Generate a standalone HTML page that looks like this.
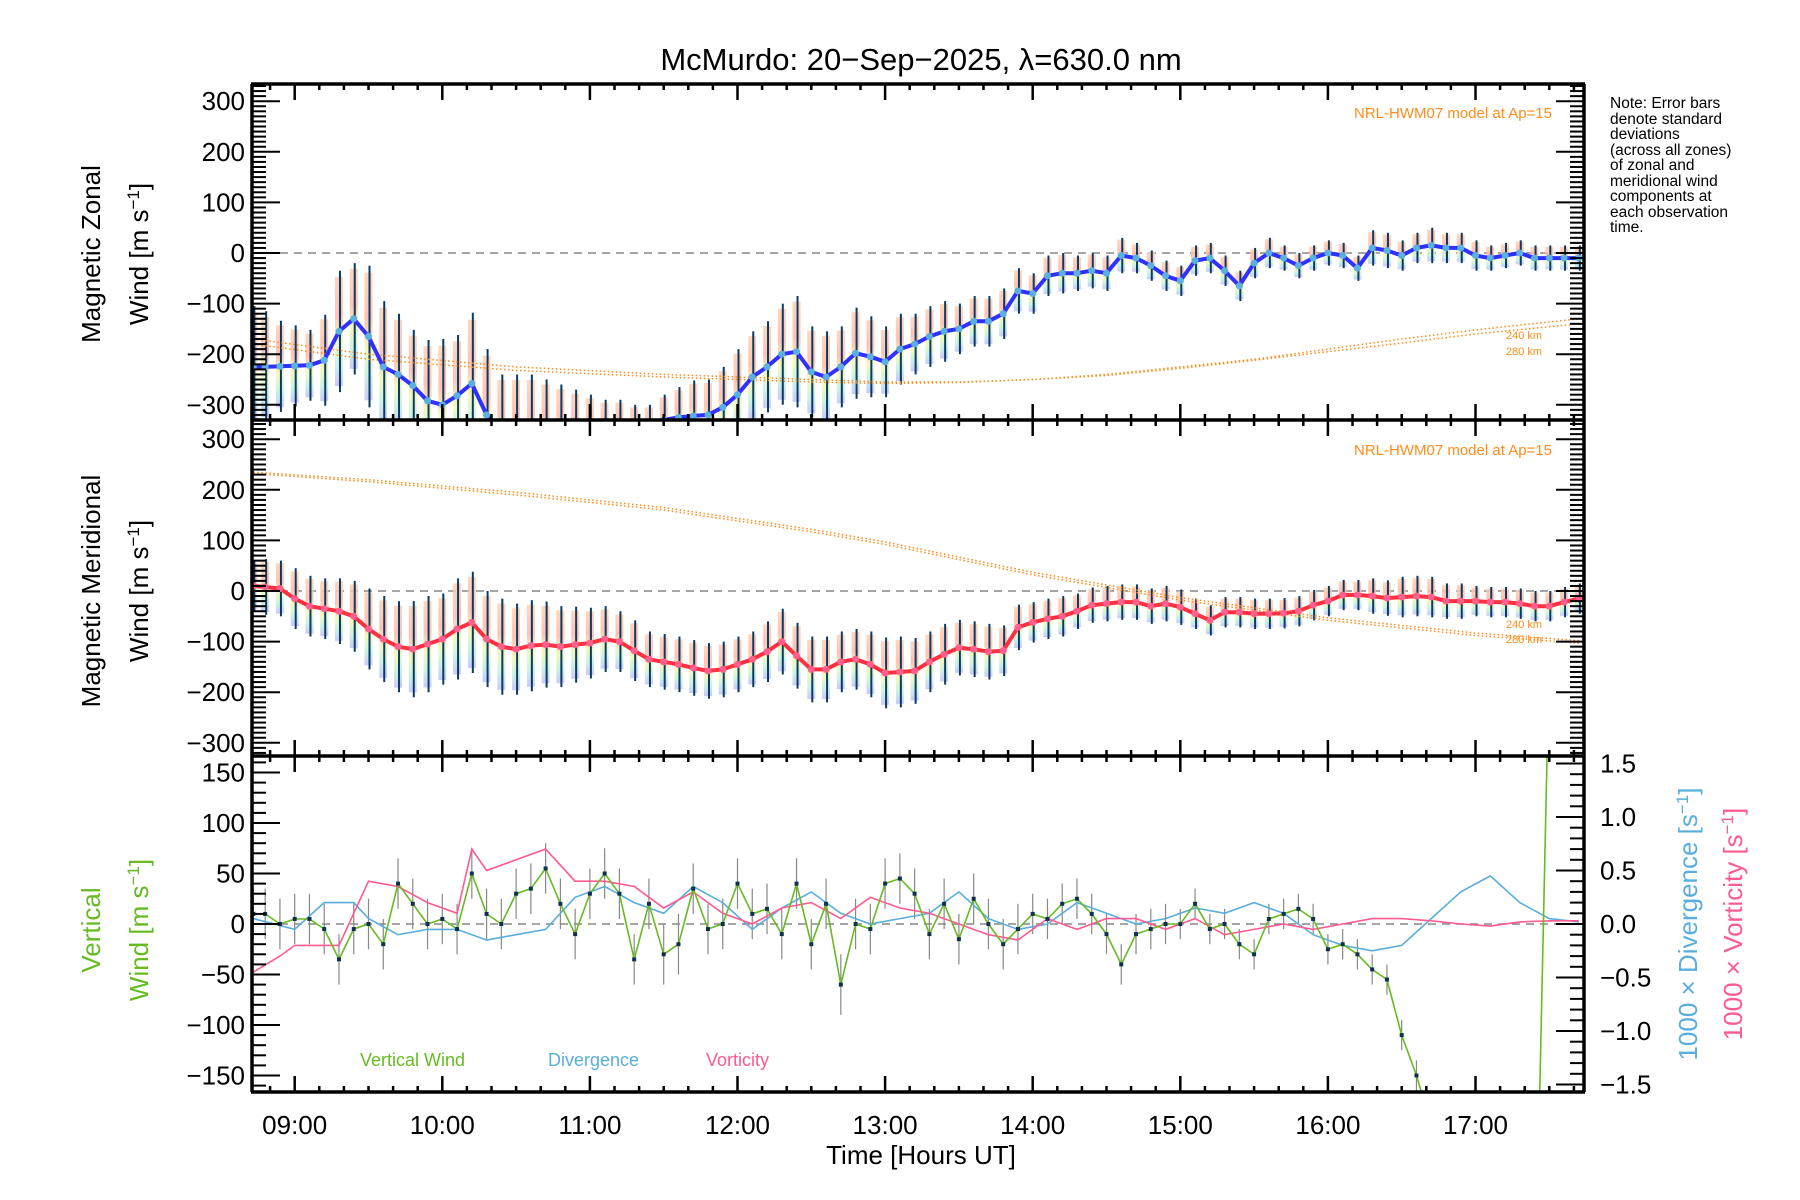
<!DOCTYPE html>
<html><head><meta charset="utf-8"><style>
html,body{margin:0;padding:0;background:#fff;}
svg{display:block;font-family:"Liberation Sans",sans-serif;}
</style></head><body>
<svg id="chart" width="1800" height="1200" viewBox="0 0 1800 1200" xmlns="http://www.w3.org/2000/svg">
<defs>
<linearGradient id="zg" x1="0" y1="0" x2="0" y2="1"><stop offset="0" stop-color="#ffd0b0"/><stop offset="0.35" stop-color="#ffb8a8"/><stop offset="0.6" stop-color="#f0f8b0"/><stop offset="0.8" stop-color="#c0f0e0"/><stop offset="1" stop-color="#c0c0f8"/></linearGradient>
<clipPath id="c1"><rect x="252" y="84" width="1332" height="336"/></clipPath>
<clipPath id="c2"><rect x="252" y="420" width="1332" height="336"/></clipPath>
<clipPath id="c3"><rect x="252" y="756" width="1332" height="336"/></clipPath>
</defs>
<text x="921" y="70" font-size="31" text-anchor="middle">McMurdo: 20−Sep−2025, λ=630.0 nm</text>
<g id="p1" clip-path="url(#c1)"></g>
<g id="p2" clip-path="url(#c2)"></g>
<g id="p3" clip-path="url(#c3)"></g>
<g id="axes"></g>
<text x="1552" y="118" font-size="15" fill="#ff8c1a" text-anchor="end">NRL-HWM07 model at Ap=15</text>
<text x="1552" y="455" font-size="15" fill="#ff8c1a" text-anchor="end">NRL-HWM07 model at Ap=15</text>
<text x="1506" y="339" font-size="11" fill="#ff8c1a">240 km</text>
<text x="1506" y="355" font-size="11" fill="#ff8c1a">280 km</text>
<text x="1506" y="628" font-size="11" fill="#ff8c1a">240 km</text>
<text x="1506" y="643" font-size="11" fill="#ff8c1a">280 km</text>
<g font-size="15.5">
<text x="1610" y="108">Note: Error bars</text><text x="1610" y="124">denote standard</text><text x="1610" y="139">deviations</text><text x="1610" y="155">(across all zones)</text><text x="1610" y="170">of zonal and</text><text x="1610" y="186">meridional wind</text><text x="1610" y="201">components at</text><text x="1610" y="217">each observation</text><text x="1610" y="232">time.</text>
</g>
<text transform="translate(100,254) rotate(-90)" font-size="26" text-anchor="middle">Magnetic Zonal</text>
<text transform="translate(148,254) rotate(-90)" font-size="26" text-anchor="middle">Wind [m s<tspan baseline-shift="super" font-size="17">−1</tspan>]</text>
<text transform="translate(100,591) rotate(-90)" font-size="26" text-anchor="middle">Magnetic Meridional</text>
<text transform="translate(148,591) rotate(-90)" font-size="26" text-anchor="middle">Wind [m s<tspan baseline-shift="super" font-size="17">−1</tspan>]</text>
<text transform="translate(100,930) rotate(-90)" font-size="26" fill="#66bb22" text-anchor="middle">Vertical</text>
<text transform="translate(148,930) rotate(-90)" font-size="26" fill="#66bb22" text-anchor="middle">Wind [m s<tspan baseline-shift="super" font-size="17">−1</tspan>]</text>
<text transform="translate(1697,924) rotate(-90)" font-size="26" fill="#5aaedc" text-anchor="middle">1000 × Divergence [s<tspan baseline-shift="super" font-size="17">−1</tspan>]</text>
<text transform="translate(1742,924) rotate(-90)" font-size="26" fill="#ff5a90" text-anchor="middle">1000 × Vorticity [s<tspan baseline-shift="super" font-size="17">−1</tspan>]</text>
<text x="360" y="1066" font-size="18" fill="#66bb22">Vertical Wind</text>
<text x="548" y="1066" font-size="18" fill="#5aaedc">Divergence</text>
<text x="706" y="1066" font-size="18" fill="#ff5a90">Vorticity</text>
<text x="921" y="1164" font-size="26" text-anchor="middle">Time [Hours UT]</text>
</svg>
<script>
const gridT=[8.72,8.8,8.9,9.0,9.1,9.2,9.3,9.4,9.5,9.6,9.7,9.8,9.9,10.0,10.1,10.2,10.3,10.4,10.5,10.6,10.7,10.8,10.9,11.0,11.1,11.2,11.3,11.4,11.5,11.6,11.7,11.8,11.9,12.0,12.1,12.2,12.3,12.4,12.5,12.6,12.7,12.8,12.9,13.0,13.1,13.2,13.3,13.4,13.5,13.6,13.7,13.8,13.9,14.0,14.1,14.2,14.3,14.4,14.5,14.6,14.7,14.8,14.9,15.0,15.1,15.2,15.3,15.4,15.5,15.6,15.7,15.8,15.9,16.0,16.1,16.2,16.3,16.4,16.5,16.6,16.7,16.8,16.9,17.0,17.1,17.2,17.3,17.4,17.5,17.6,17.7];
const zonal=[-225,-225,-224,-223,-222,-212,-155,-130,-165,-225,-240,-262,-292,-300,-282,-258,-320,-350,-350,-350,-350,-350,-350,-350,-350,-350,-350,-350,-330,-325,-322,-320,-305,-280,-245,-225,-200,-195,-235,-245,-225,-198,-205,-215,-190,-180,-165,-155,-150,-135,-135,-120,-75,-80,-45,-40,-40,-35,-40,-5,-10,-25,-45,-55,-15,-10,-35,-65,-20,0,-10,-25,-10,0,-5,-30,10,5,-5,10,15,10,10,-5,-10,-5,0,-10,-10,-10,-10];
const zonalSd=[120,110,90,80,70,90,120,110,140,130,120,110,120,130,120,140,130,110,110,110,100,90,80,70,60,60,50,50,50,60,70,70,80,90,90,90,100,110,90,90,80,90,80,70,70,60,60,60,50,50,50,50,45,40,40,40,35,35,35,35,30,30,30,30,30,30,30,30,30,30,25,25,25,25,25,25,35,35,30,30,35,30,30,30,25,25,25,25,25,25,25];
const merid=[10,8,5,-15,-30,-35,-40,-50,-75,-95,-110,-115,-105,-95,-75,-62,-95,-110,-115,-108,-106,-110,-106,-103,-95,-100,-118,-135,-140,-145,-152,-158,-155,-145,-135,-120,-100,-128,-155,-155,-140,-135,-145,-162,-160,-158,-140,-125,-112,-115,-120,-118,-72,-62,-55,-50,-40,-28,-25,-22,-22,-30,-25,-32,-45,-58,-42,-42,-45,-45,-44,-40,-28,-20,-8,-8,-10,-14,-12,-10,-12,-20,-20,-20,-22,-22,-25,-30,-30,-22,-15];
const meridSd=[50,55,55,60,60,60,65,70,80,85,90,95,95,90,100,100,95,95,90,90,85,80,75,70,65,60,60,55,55,55,55,55,55,55,55,60,65,65,65,65,60,60,65,70,70,65,60,60,55,55,55,50,45,40,40,40,35,35,35,35,35,35,35,35,30,30,30,30,30,30,30,30,30,30,30,30,35,35,40,40,40,35,35,30,30,30,30,30,30,30,30];
const modelT=[8.72,9.5,10.5,11.5,12.5,13.0,13.5,14.0,14.5,15.0,15.5,16.0,16.5,17.0,17.7];
const zonal240=[-170,-200,-225,-240,-250,-255,-255,-250,-240,-225,-210,-190,-170,-152,-130];
const zonal280=[-180,-210,-232,-245,-255,-258,-256,-250,-242,-228,-212,-195,-178,-160,-140];
const merid240=[235,220,195,165,122,97,67,37,12,-13,-33,-53,-68,-83,-98];
const merid280=[232,216,190,160,117,92,62,32,7,-18,-38,-58,-73,-88,-103];
const vertT=[8.72,8.8,8.9,9.0,9.1,9.2,9.3,9.4,9.5,9.6,9.7,9.8,9.9,10.0,10.1,10.2,10.3,10.4,10.5,10.6,10.7,10.8,10.9,11.0,11.1,11.2,11.3,11.4,11.5,11.6,11.7,11.8,11.9,12.0,12.1,12.2,12.3,12.4,12.5,12.6,12.7,12.8,12.9,13.0,13.1,13.2,13.3,13.4,13.5,13.6,13.7,13.8,13.9,14.0,14.1,14.2,14.3,14.4,14.5,14.6,14.7,14.8,14.9,15.0,15.1,15.2,15.3,15.4,15.5,15.6,15.7,15.8,15.9,16.0,16.1,16.2,16.3,16.4,16.5,16.6,16.7,17.43,17.49];
const vertW=[10,10,0,5,5,-5,-35,-5,0,-20,40,20,0,5,-5,50,10,0,30,35,55,20,-10,30,50,30,-35,20,-30,-20,35,-5,0,40,10,15,-10,40,-20,20,-60,0,-5,40,45,30,-10,20,-15,25,0,-20,-5,10,5,20,25,10,-10,-40,-10,-5,0,0,20,-5,0,-20,-30,5,10,15,5,-25,-20,-30,-45,-55,-110,-150,-200,-200,200];
const vertSd=[25,25,25,25,25,25,25,25,25,25,25,25,25,25,25,25,25,25,25,25,25,25,25,25,25,25,25,25,30,30,25,25,25,25,25,25,25,25,25,25,30,25,25,25,25,25,25,25,25,25,25,25,25,20,20,20,20,20,20,20,20,20,20,15,15,15,15,15,15,15,15,15,15,15,15,15,15,15,15,15,15,0,0];
const divT=[8.72,9.0,9.2,9.4,9.5,9.7,9.9,10.1,10.3,10.5,10.7,10.9,11.1,11.3,11.5,11.7,11.9,12.1,12.3,12.5,12.7,12.9,13.1,13.3,13.5,13.7,13.9,14.1,14.3,14.5,14.7,14.9,15.1,15.3,15.5,15.7,15.9,16.1,16.3,16.5,16.7,16.9,17.1,17.3,17.5,17.7];
const divergence=[0.05,-0.05,0.2,0.2,0.05,-0.1,-0.05,-0.05,-0.15,-0.1,-0.05,0.25,0.35,0.2,0.1,0.35,0.2,-0.05,0.15,0.3,0.1,0.0,0.05,0.1,0.3,0.05,-0.05,0.0,0.2,0.1,0.0,0.05,0.15,0.1,0.2,0.1,-0.1,-0.2,-0.25,-0.2,0.05,0.3,0.45,0.2,0.05,0.02];
const vortT=[8.72,8.9,9.0,9.2,9.3,9.5,9.7,9.9,10.1,10.2,10.3,10.5,10.7,10.9,11.1,11.3,11.5,11.7,11.9,12.1,12.3,12.5,12.7,12.9,13.1,13.3,13.5,13.7,13.9,14.1,14.3,14.5,14.7,14.9,15.1,15.3,15.5,15.7,15.9,16.1,16.3,16.5,16.7,16.9,17.1,17.3,17.5,17.7];
const vorticity=[-0.45,-0.3,-0.2,-0.2,-0.2,0.4,0.35,0.2,0.1,0.7,0.5,0.6,0.7,0.4,0.4,0.35,0.15,0.3,0.1,0.0,0.15,0.2,0.05,0.25,0.15,0.1,0.0,-0.1,-0.15,0.05,-0.05,0.05,0.05,-0.05,0.05,-0.1,-0.05,0.0,-0.05,0.0,0.05,0.05,0.03,0.0,-0.02,0.02,0.03,0.03];
const xTickLabels=['09:00','10:00','11:00','12:00','13:00','14:00','15:00','16:00','17:00'];
const zonalTicks=[-300,-200,-100,0,100,200,300];
const vertTicks=[-150,-100,-50,0,50,100,150];
const rightTicks=['-1.5','-1.0','-0.5','0.0','0.5','1.0','1.5'];

const NS='http://www.w3.org/2000/svg';
const X0=252,X1=1584;
const xs=h=>294.7+147.6*(h-9);
const y1=v=>253-0.506*v, y2=v=>591-0.506*v, y3=v=>924-1.01*v, y3r=v=>924-107*v;
function mk(tag,attrs,parent){const e=document.createElementNS(NS,tag);for(const k in attrs)e.setAttribute(k,attrs[k]);parent.appendChild(e);return e;}
function poly(ts,vs,ys){return ts.map((t,i)=>xs(t).toFixed(1)+','+ys(vs[i]).toFixed(1)).join(' ');}
const p1=document.getElementById('p1'),p2=document.getElementById('p2'),p3=document.getElementById('p3'),ax=document.getElementById('axes');

function windPanel(p,vals,sds,ys,lineCol,dotCol,m1,m2,nm){
  let e=mk('line',{x1:X0,x2:X1,y1:ys(0),y2:ys(0),stroke:'#888','stroke-dasharray':'8,6','stroke-width':1.5},p);
  
  
  gridT.forEach((t,i)=>{
    const top=ys(vals[i]+sds[i]*0.9),bot=ys(vals[i]-sds[i]*0.9);
    let r=mk('rect',{x:xs(t)-4,y:top,width:8,height:bot-top,fill:'url(#zg)',opacity:0.85},p);
    
    
    let b=mk('line',{x1:xs(t)+1,x2:xs(t)+1,y1:ys(vals[i]+sds[i]),y2:ys(vals[i]-sds[i]),stroke:'#0a3a66','stroke-width':2},p);
    
    
  });
  [m1,m2].forEach((m,k)=>{
    let l=mk('polyline',{points:poly(modelT,m,ys),fill:'none',stroke:'#ff8c1a','stroke-width':1.5,'stroke-dasharray':'1.5,2.5'},p);
    
    
  });
  let ln=mk('polyline',{points:poly(gridT,vals,ys),fill:'none',stroke:lineCol,'stroke-width':4,'stroke-linejoin':'round'},p);
  
  
  gridT.forEach((t,i)=>{
    let c=mk('circle',{cx:xs(t),cy:ys(vals[i]),r:3.5,fill:dotCol},p);
    
    
  });
}
windPanel(p1,zonal,zonalSd,y1,'#3030ff','#5ab0e0',zonal240,zonal280,'zonal');
windPanel(p2,merid,meridSd,y2,'#ff3040','#ff6090',merid240,merid280,'meridional');

let z3=mk('line',{x1:X0,x2:X1,y1:y3(0),y2:y3(0),stroke:'#888','stroke-dasharray':'8,6','stroke-width':1.5},p3);


vertT.forEach((t,i)=>{if(vertSd[i]>0){
  let b=mk('line',{x1:xs(t),x2:xs(t),y1:y3(vertW[i]+vertSd[i]),y2:y3(vertW[i]-vertSd[i]),stroke:'#888','stroke-width':1.2},p3);
  
  
}});
let dl=mk('polyline',{points:poly(divT,divergence,y3r),fill:'none',stroke:'#5aaedc','stroke-width':1.6},p3);


let vl=mk('polyline',{points:poly(vortT,vorticity,y3r),fill:'none',stroke:'#ff5a90','stroke-width':1.6},p3);


let wl=mk('polyline',{points:poly(vertT,vertW,y3),fill:'none',stroke:'#66bb22','stroke-width':1.6},p3);


vertT.forEach((t,i)=>{
  let c=mk('rect',{x:xs(t)-2,y:y3(vertW[i])-2,width:4,height:4,fill:'#103050'},p3);
  
  
});

function ln2(x1,y1_,x2,y2_,w){mk('line',{x1:x1,y1:y1_,x2:x2,y2:y2_,stroke:'#000','stroke-width':w},ax);}
[84,420,756,1092].forEach(y=>ln2(X0-1,y,X1+1,y,3.5));
ln2(X0,84,X0,1092,3.5);ln2(X1,84,X1,1092,3.5);
[[84,1],[420,-1],[420,1],[756,-1],[756,1],[1092,-1]].forEach(([y,d])=>{
  for(let m=0;m<=600;m+=10){const hh=(8*60+40+m)/60;const x=xs(hh);if(x>X1)break;if(x<X0)continue;
    const major=((8*60+40+m)%60)===0;ln2(x,y,x,y+d*(major?16:6),2.5);}
});
function yTicks(ys,vmin,vmax,minor,majorStep,left){
  for(let v=vmin;v<=vmax;v+=minor){const y=ys(v);if(y<84||y>1092)continue;const maj=Math.abs(v%majorStep)<1e-6;const L=maj?28:14;
    if(left)ln2(X0,y,X0+L,y,2);else ln2(X1,y,X1-L,y,2);}
}
yTicks(y1,-330,330,10,100,true);yTicks(y1,-330,330,10,100,false);
yTicks(y2,-320,330,10,100,true);yTicks(y2,-320,330,10,100,false);
yTicks(y3,-160,160,10,50,true);
for(let k=-15;k<=15;k++){const y=y3r(k/10);const L=(k%5===0)?28:14;ln2(X1,y,X1-L,y,2);}
function lab(x,y,s,anchor,nm){const t=mk('text',{x:x,y:y,'font-size':26,'text-anchor':anchor},ax);t.textContent=s;}
zonalTicks.forEach(v=>{lab(245,y1(v)+9,String(v).replace('-','−'),'end','zonal-y-tick');lab(245,y2(v)+9,String(v).replace('-','−'),'end','meridional-y-tick');});
vertTicks.forEach(v=>lab(245,y3(v)+9,String(v).replace('-','−'),'end','vertical-y-tick'));
rightTicks.forEach(s=>lab(1600,y3r(parseFloat(s))+9,s.replace('-','−'),'start','right-y-tick'));
xTickLabels.forEach((s,i)=>lab(xs(9+i),1134,s,'middle','x-tick-label'));
</script>
</body></html>
